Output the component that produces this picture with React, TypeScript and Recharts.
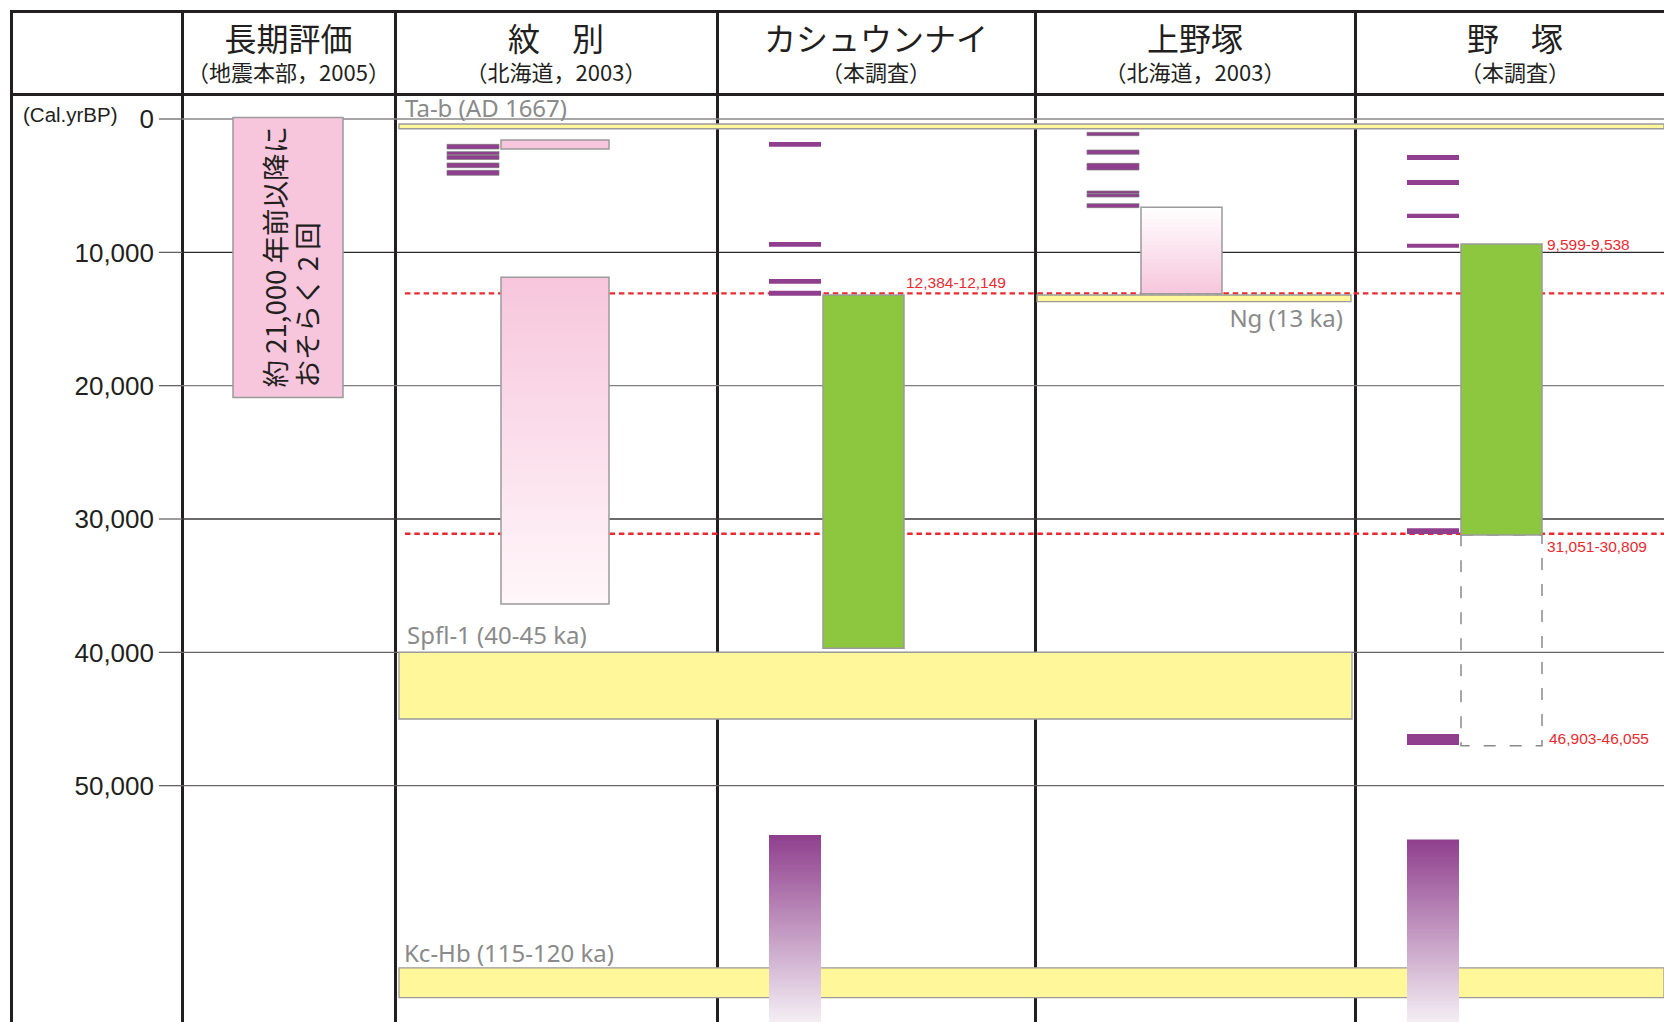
import React from "react";
import { ComposedChart, XAxis, YAxis, ReferenceArea, ReferenceLine } from "recharts";

// header
const SITE_NAMES = ["長期評価", "紋　別", "カシュウンナイ", "上野塚", "野　塚"];
const SITE_SOURCES = ["（地震本部，2005）", "（北海道，2003）", "（本調査）", "（北海道，2003）", "（本調査）"];

// age axis (cal yr BP)
const AGE_TICKS = [0, 10000, 20000, 30000, 40000, 50000];

// 長期評価
const LONG_TERM_RANGE = [-120, 20880];
const LONG_TERM_TEXT = ["約 21,000 年前以降に", "おそらく 2 回"];

// event horizons (purple ticks), [young, old]
const MONBETSU_EVENTS = [[1900, 2250], [2450, 2680], [2720, 3030], [3300, 3650], [3850, 4220]];
const KASHUN_EVENTS = [[1725, 2075], [9225, 9575], [12000, 12350], [12875, 13250]];
const KAMINOZUKA_EVENTS = [[1000, 1250], [2325, 2650], [3325, 3825], [5400, 5580], [5620, 5850], [6350, 6650]];
const NOZUKA_EVENTS = [[2700, 3075], [4575, 4950], [7100, 7425], [9350, 9650], [30700, 31125], [46125, 46950]];

// event age ranges
const MONBETSU_RECENT = [1575, 2250];
const MONBETSU_RANGE = [11875, 36375];
const KASHUN_RANGE = [13200, 39700];
const KAMINOZUKA_RANGE = [6625, 13100];
const NOZUKA_RANGE = [9375, 31200];
const NOZUKA_RANGE_EXT = [31200, 47000];
// open-ended older events (run to the bottom of the figure)
const KASHUN_OLDER_THAN = 53700;
const NOZUKA_OLDER_THAN = 54030;

// tephra key beds (Kc-Hb sits below the scale break)
const TEPHRA_NAMES = ["Ta-b (AD 1667)", "Ng (13 ka)", "Spfl-1 (40-45 ka)", "Kc-Hb (115-120 ka)"];
const TEPHRA_RANGES = [[375, 730], [13200, 13700], [40000, 45000], [63660, 65890]];

// red correlation lines + dated ages
const CORRELATION_AGES = [13075, 31110];
const KASHUN_AGE_LABEL = "12,384-12,149";
const NOZUKA_AGE_LABELS = ["9,599-9,538", "31,051-30,809", "46,903-46,055"];

// ---- layout / style ----
const W = 1664;
const H = 1022;
const Y_MIN = -1800;
const Y_MAX = 67725;
const COL_EDGES = [11, 182, 395, 717, 1035, 1355, 1675];
const MARK_SLOT = [52, 104];
const BOX_SLOT = [106, 187];
const WIDE_SLOT = [106, 214];
const LT_SLOT = [51, 161];

const INK = "#231f20";
const GRAY_TEXT = "#8a8a8a";
const PINK = "#f7c6dc";
const GREEN = "#8dc63f";
const YELLOW = "#fff799";
const PURPLE = "#8f3f8d";
const RED = "#ea2a31";
const EDGE = "#9b9b9b";
const GRID_COLORS = ["#8a8a8a", "#2a2a2a", "#808080", "#3a3a3a", "#666", "#666"];
const JP = '"Noto Sans CJK JP", sans-serif';
const NUM = '"Liberation Sans", Arial, sans-serif';
const SOFT = '"Noto Sans", sans-serif';

const colX = (site: number, slot: number[]) => [COL_EDGES[site + 1] + slot[0], COL_EDGES[site + 1] + slot[1]];

const EVENT_SETS = [
  { site: 1, events: MONBETSU_EVENTS, outline: true },
  { site: 2, events: KASHUN_EVENTS, outline: false },
  { site: 3, events: KAMINOZUKA_EVENTS, outline: true },
  { site: 4, events: NOZUKA_EVENTS, outline: false },
];

const TEPHRA_X = [
  [COL_EDGES[2] + 4, W],
  [COL_EDGES[4] + 2, COL_EDGES[5] - 4],
  [COL_EDGES[2] + 4, COL_EDGES[5] - 3],
  [COL_EDGES[2] + 4, W],
];
// label placement: [anchor, dx, dy, fromBottom]
const TEPHRA_LABEL_POS: [string, number, number, boolean][] = [
  ["start", 6, -7, false],
  ["end", -8, 25, true],
  ["start", 8, -8, false],
  ["start", 5, -6, false],
];

const redText = (x: number, y: number, t: string) => (
  <text key={t} x={x} y={y} fill={RED} fontSize={15.5} fontFamily={NUM}>{t}</text>
);

export default function App() {
  const frameLine = (left: number, top: number, w: number, h: number, key: string) => (
    <div key={key} style={{ position: "absolute", left, top, width: w, height: h, background: INK }} />
  );
  return (
    <div style={{ position: "absolute", left: 0, top: 0, width: W, height: H, background: "#fff", overflow: "hidden" }}>
      {frameLine(10, 9.5, W - 10, 3, "top")}
      {frameLine(10, 93, W - 10, 3, "head")}
      {frameLine(10, 9.5, 3, H, "left")}
      {COL_EDGES.slice(1, 6).map((e) => frameLine(e - 1.5, 9.5, 3, H, "c" + e))}

      {SITE_NAMES.map((name, i) => {
        const left = COL_EDGES[i + 1];
        const width = COL_EDGES[i + 2] - left;
        return (
          <React.Fragment key={name}>
            <div style={{ position: "absolute", left, width, top: 19, lineHeight: "36px", height: 36, textAlign: "center", fontFamily: JP, fontSize: 32, color: INK, whiteSpace: "pre" }}>{name}</div>
            <div style={{ position: "absolute", left, width, top: 58, lineHeight: "26px", height: 26, textAlign: "center", fontFamily: JP, fontSize: 22, color: INK }}>{SITE_SOURCES[i]}</div>
          </React.Fragment>
        );
      })}

      <div style={{ position: "absolute", left: 0, top: 0 }}>
        <ComposedChart width={W} height={H} margin={{ top: 95, right: 0, bottom: 0, left: 0 }}>
          <defs>
            <linearGradient id="pinkDown" x1="0" y1="0" x2="0" y2="1">
              <stop offset="0%" stopColor={PINK} />
              <stop offset="100%" stopColor="#fff7fa" />
            </linearGradient>
            <linearGradient id="pinkUp" x1="0" y1="0" x2="0" y2="1">
              <stop offset="0%" stopColor="#ffffff" />
              <stop offset="100%" stopColor={PINK} />
            </linearGradient>
            <linearGradient id="purpleDown" x1="0" y1="0" x2="0" y2="1">
              <stop offset="0%" stopColor={PURPLE} />
              <stop offset="100%" stopColor="#f4eef4" />
            </linearGradient>
          </defs>
          <XAxis type="number" dataKey="x" domain={[COL_EDGES[1], W]} allowDataOverflow hide />
          <YAxis
            type="number"
            domain={[Y_MIN, Y_MAX]}
            reversed
            allowDataOverflow
            ticks={AGE_TICKS}
            interval={0}
            width={182}
            tickSize={23}
            tickMargin={5}
            axisLine={false}
            tickLine={{ stroke: "#666", strokeWidth: 1.3 }}
            tick={{ fontSize: 26, fill: INK, fontFamily: NUM }}
            tickFormatter={(v: number) => v.toLocaleString("en-US")}
            label={(p: any) => (
              <text x={23} y={(p.viewBox?.y ?? 95) + 27} fontSize={20.5} fill={INK} fontFamily={NUM}>(Cal.yrBP)</text>
            )}
          />

          {AGE_TICKS.map((t, i) => (
            <ReferenceLine key={"g" + t} y={t} stroke={GRID_COLORS[i]} strokeWidth={1.3} ifOverflow="visible" zIndex={-50} />
          ))}

          {CORRELATION_AGES.map((a) => (
            <ReferenceLine
              key={"r" + a}
              segment={[{ x: COL_EDGES[2] + 10, y: a }, { x: W, y: a }]}
              stroke={RED}
              strokeWidth={2.4}
              strokeDasharray="5.5 3.8"
              ifOverflow="visible"
              zIndex={-20}
            />
          ))}

          {TEPHRA_RANGES.map((r, i) => {
            const [anchor, dx, dy, fromBottom] = TEPHRA_LABEL_POS[i];
            return (
              <ReferenceArea
                key={TEPHRA_NAMES[i]}
                x1={TEPHRA_X[i][0]}
                x2={TEPHRA_X[i][1]}
                y1={r[0]}
                y2={r[1]}
                fill={YELLOW}
                fillOpacity={1}
                stroke={EDGE}
                strokeWidth={1.3}
                ifOverflow="visible"
                zIndex={10}
                label={(p: any) => {
                  const vb = p.viewBox;
                  const x = anchor === "start" ? vb.x + dx : vb.x + vb.width + dx;
                  const y = (fromBottom ? vb.y + vb.height : vb.y) + dy;
                  return <text x={x} y={y} textAnchor={anchor} fill={GRAY_TEXT} fontSize={24} fontFamily={SOFT}>{TEPHRA_NAMES[i]}</text>;
                }}
              />
            );
          })}

          {/* 長期評価 */}
          <ReferenceArea
            x1={colX(0, LT_SLOT)[0]}
            x2={colX(0, LT_SLOT)[1]}
            y1={LONG_TERM_RANGE[0]}
            y2={LONG_TERM_RANGE[1]}
            fill={PINK}
            fillOpacity={1}
            stroke={EDGE}
            strokeWidth={1.5}
            ifOverflow="visible"
            zIndex={20}
            label={(p: any) => {
              const vb = p.viewBox;
              const by = vb.y + vb.height - 10;
              return (
                <g>
                  {LONG_TERM_TEXT.map((t, k) => {
                    const cx = vb.x + (k === 0 ? 41 : 73);
                    return (
                      <text key={t} x={cx} y={by} transform={`rotate(-90 ${cx} ${by})`} dominantBaseline="central" fontSize={27.5} fill={INK} fontFamily={JP}>{t}</text>
                    );
                  })}
                </g>
              );
            }}
          />

          {/* 紋別 */}
          <ReferenceArea x1={colX(1, WIDE_SLOT)[0]} x2={colX(1, WIDE_SLOT)[1]} y1={MONBETSU_RECENT[0]} y2={MONBETSU_RECENT[1]} fill={PINK} fillOpacity={1} stroke={EDGE} strokeWidth={1.5} ifOverflow="visible" zIndex={20} />
          <ReferenceArea x1={colX(1, WIDE_SLOT)[0]} x2={colX(1, WIDE_SLOT)[1]} y1={MONBETSU_RANGE[0]} y2={MONBETSU_RANGE[1]} fill="url(#pinkDown)" fillOpacity={1} stroke={EDGE} strokeWidth={1.5} ifOverflow="visible" zIndex={20} />

          {/* カシュウンナイ */}
          <ReferenceArea
            x1={colX(2, BOX_SLOT)[0]}
            x2={colX(2, BOX_SLOT)[1]}
            y1={KASHUN_RANGE[0]}
            y2={KASHUN_RANGE[1]}
            fill={GREEN}
            fillOpacity={1}
            stroke={EDGE}
            strokeWidth={1.5}
            ifOverflow="visible"
            zIndex={20}
            label={(p: any) => redText(p.viewBox.x + p.viewBox.width + 2, p.viewBox.y - 7, KASHUN_AGE_LABEL)}
          />

          {/* 上野塚 */}
          <ReferenceArea x1={colX(3, BOX_SLOT)[0]} x2={colX(3, BOX_SLOT)[1]} y1={KAMINOZUKA_RANGE[0]} y2={KAMINOZUKA_RANGE[1]} fill="url(#pinkUp)" fillOpacity={1} stroke={EDGE} strokeWidth={1.5} ifOverflow="visible" zIndex={20} />

          {/* 野塚 */}
          <ReferenceArea
            x1={colX(4, BOX_SLOT)[0]}
            x2={colX(4, BOX_SLOT)[1]}
            y1={NOZUKA_RANGE_EXT[0]}
            y2={NOZUKA_RANGE_EXT[1]}
            fill="none"
            stroke="#8a8a8a"
            strokeWidth={1.5}
            strokeDasharray="12 14"
            ifOverflow="visible"
            zIndex={20}
            label={(p: any) => redText(p.viewBox.x + p.viewBox.width + 7, p.viewBox.y + p.viewBox.height - 2, NOZUKA_AGE_LABELS[2])}
          />
          <ReferenceArea
            x1={colX(4, BOX_SLOT)[0]}
            x2={colX(4, BOX_SLOT)[1]}
            y1={NOZUKA_RANGE[0]}
            y2={NOZUKA_RANGE[1]}
            fill={GREEN}
            fillOpacity={1}
            stroke={EDGE}
            strokeWidth={1.5}
            ifOverflow="visible"
            zIndex={21}
            label={(p: any) => (
              <g>
                {redText(p.viewBox.x + p.viewBox.width + 5, p.viewBox.y + 6, NOZUKA_AGE_LABELS[0])}
                {redText(p.viewBox.x + p.viewBox.width + 5, p.viewBox.y + p.viewBox.height + 17, NOZUKA_AGE_LABELS[1])}
              </g>
            )}
          />

          {EVENT_SETS.map((s) =>
            s.events.map((e, k) => (
              <ReferenceArea
                key={`e${s.site}-${k}`}
                x1={colX(s.site, MARK_SLOT)[0]}
                x2={colX(s.site, MARK_SLOT)[1]}
                y1={e[0]}
                y2={e[1]}
                fill={PURPLE}
                fillOpacity={1}
                stroke={s.outline ? "#777" : "none"}
                strokeWidth={0.7}
                ifOverflow="visible"
                zIndex={30}
              />
            ))
          )}

          {[
            { site: 2, from: KASHUN_OLDER_THAN },
            { site: 4, from: NOZUKA_OLDER_THAN },
          ].map((o) => (
            <ReferenceArea
              key={"old" + o.site}
              x1={colX(o.site, MARK_SLOT)[0]}
              x2={colX(o.site, MARK_SLOT)[1]}
              y1={o.from}
              y2={Y_MAX}
              fill="url(#purpleDown)"
              fillOpacity={1}
              stroke="none"
              ifOverflow="visible"
              zIndex={40}
            />
          ))}
        </ComposedChart>
      </div>
    </div>
  );
}
